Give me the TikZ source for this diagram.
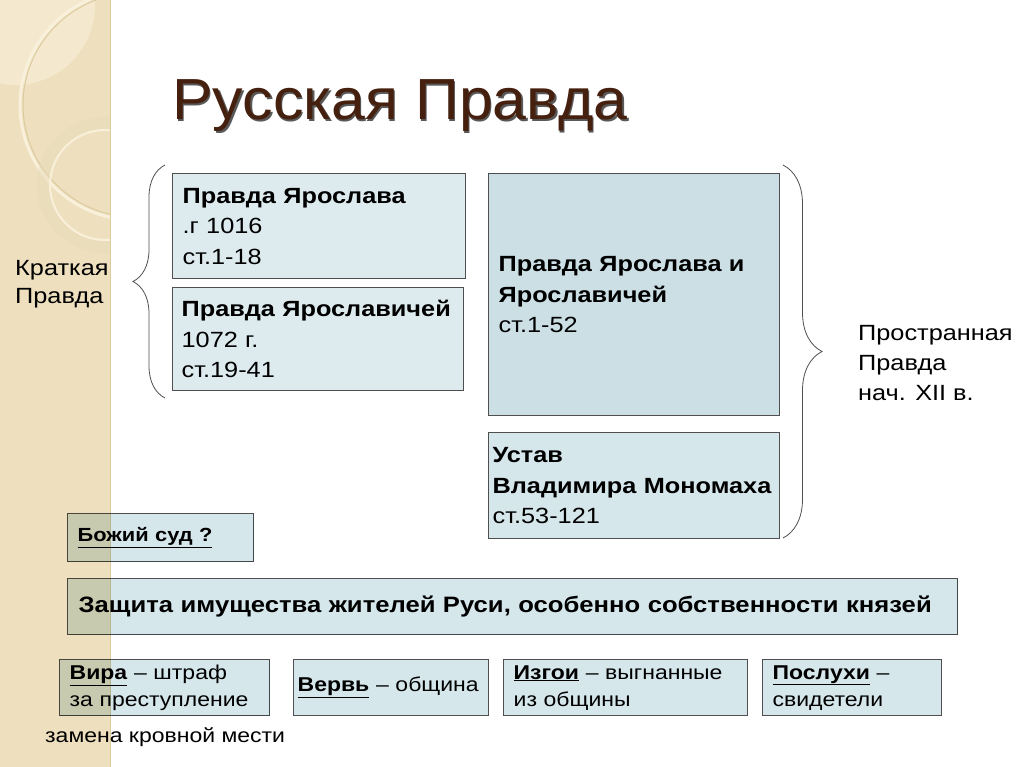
\documentclass[tikz,border=0pt]{standalone}
\usepackage{fontspec}
\setmainfont{Liberation Sans}[FakeStretch=1.15]
\newfontfamily\titlefont{Liberation Sans}[FakeStretch=1.05]
\usetikzlibrary{positioning,calc,decorations.pathreplacing}
\definecolor{stripbeige}{HTML}{EEE0BE}
\definecolor{stripring}{HTML}{F8F0DA}
\definecolor{stripdark}{HTML}{DCCB9E}
\definecolor{lightbox}{HTML}{DDEBEF}
\definecolor{deepbox}{HTML}{CBDFE5}
\definecolor{midbox}{HTML}{D6E7EC}
\definecolor{boxedge}{HTML}{4F4F4F}
\definecolor{titlebrown}{HTML}{45200F}
\tikzset{
  pravbox/.style={draw=boxedge, line width=1.3pt, fill=midbox, anchor=north west,
    align=left, inner xsep=10pt, inner ysep=0pt, font=\fontsize{22}{30.5}\selectfont},
  smallbox/.style={pravbox, font=\fontsize{20}{27}\selectfont, minimum height=56pt},
  sidenote/.style={anchor=west, align=left, inner sep=0pt, font=\fontsize{22}{30}\selectfont},
  curly/.style={draw=boxedge, line width=0.8pt, decorate},
}
\newcommand{\term}[1]{\underline{\textbf{#1}}}

\begin{document}
\begin{tikzpicture}[x=1pt,y=1pt,yscale=-1]
\useasboundingbox (0,0) rectangle (1024,767);
% slide background with the beige strip
\fill[white] (0,0) rectangle (1024,767);
\fill[stripbeige] (0,0) rectangle (110,767);
\begin{scope}
  \clip (0,0) rectangle (110,767);
  \fill[stripring, opacity=0.6] (15,5) circle (80);
  \draw[stripring, line width=3pt] (135,105) circle (115);
  \draw[stripdark, line width=1pt] (135,105) circle (112);
  \draw[stripdark!70, line width=12pt, opacity=0.5] (105,185) circle (62);
  \draw[stripring, line width=2pt] (105,185) circle (55);
\end{scope}
\draw[stripdark, line width=1pt] (110,0) -- (110,767);

% title
\node[anchor=base west, inner sep=0pt, text=black!65, font=\titlefont\fontsize{58}{58}\selectfont] (titleshadow) at (173.5,121.5) {Русская Правда};
\node[anchor=base west, inner sep=0pt, text=titlebrown, font=\titlefont\fontsize{58}{58}\selectfont] (title) at (172,120) {Русская Правда};

% Kratkaya Pravda
\node[pravbox, fill=lightbox, minimum height=105pt, text width=273pt] (yaroslav) at (172,173)
  {\textbf{Правда Ярослава}\\.г 1016\\ст.1-18};
\node[pravbox, fill=lightbox, minimum height=103pt, text width=273pt, inner xsep=9pt] (yaroslavichi) at (172,287)
  {\textbf{Правда Ярославичей}\\1072 г.\\ст.19-41};

% Prostrannaya Pravda
\node[pravbox, fill=deepbox, minimum height=242pt, text width=271pt] (joint) at (488,173)
  {\textbf{Правда Ярослава и}\\\textbf{Ярославичей}\\ст.1-52};
\node[pravbox, minimum height=106pt, text width=283pt, inner xsep=4pt] (ustav) at (488,432)
  {\textbf{Устав}\\\textbf{Владимира Мономаха}\\ст.53-121};

% braces and their labels
\coordinate (kb-top) at (165,165);
\coordinate (kb-bot) at (165,398);
\draw[curly, decoration={brace, amplitude=32pt}] (kb-bot) -- (kb-top);
\node[sidenote, font=\fontsize{22}{28}\selectfont] (kratkaya) at (15,284) {Краткая\\Правда};

\coordinate (pb-top) at (783,165);
\coordinate (pb-bot) at (783,538);
\draw[curly, decoration={brace, amplitude=39pt}] (pb-top) -- (pb-bot);
\node[sidenote] (prostrannaya) at (858,363) {Пространная\\Правда\\нач. XII в.};

% lower boxes
\begin{scope}[blend mode=multiply]
\node[pravbox, font=\fontsize{19}{24}\selectfont, minimum height=48pt, text width=166pt] (ordeal) at (67,513)
  {\term{Божий суд ?}};
\node[pravbox, font=\bfseries\fontsize{22.3}{28}\selectfont, minimum height=56pt, text width=868pt, inner xsep=11pt] (protection) at (67,578)
  {Защита имущества жителей Руси, особенно собственности князей};
\node[smallbox, text width=190pt] (vira) at (59,659)
  {\term{Вира} -- штраф\\за преступление};
\end{scope}
\node[smallbox, text width=187pt, inner xsep=4pt] (verv) at (293,659)
  {\mbox{\term{Вервь} -- община}};
\node[smallbox, text width=224pt] (izgoi) at (503,659)
  {\term{Изгои} -- выгнанные\\из общины};
\node[smallbox, text width=159pt] (posluhi) at (762,659)
  {\term{Послухи} --\\свидетели};
\node[sidenote, font=\fontsize{20}{24}\selectfont] (zamena) at (45,737) {замена кровной мести};
\end{tikzpicture}
\end{document}
